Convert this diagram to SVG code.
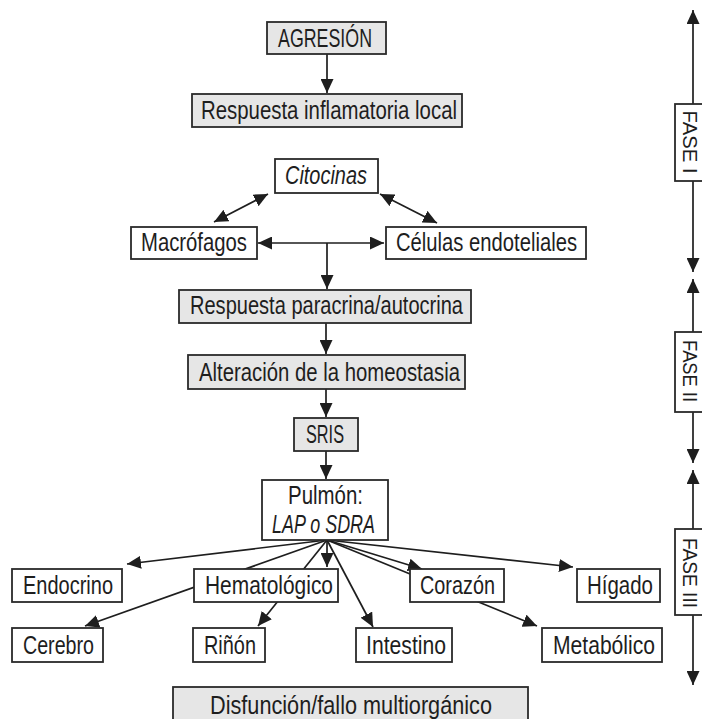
<svg xmlns="http://www.w3.org/2000/svg" width="702" height="719" viewBox="0 0 702 719">
<style>
.box{fill:#ffffff;stroke:#2a2a2a;stroke-width:1.8}
.gbox{fill:#e6e6e6;stroke:#2a2a2a;stroke-width:1.8}
.t{font-family:"Liberation Sans",Arial,sans-serif;font-size:26px;fill:#1e1e1e;text-anchor:middle}
.s{font-size:25px}
.i{font-style:italic}
.f{font-family:"Liberation Sans",Arial,sans-serif;font-size:21px;fill:#1e1e1e;text-anchor:middle}
.c{fill:none;stroke:#1e1e1e;stroke-width:1.7}
.a{marker-end:url(#ah)}
.d{marker-start:url(#ah);marker-end:url(#ah)}
</style>
<defs>
<marker id="ah" viewBox="0 0 14 13" refX="14" refY="6.5" markerWidth="14" markerHeight="13" markerUnits="userSpaceOnUse" orient="auto-start-reverse">
<path d="M0,0 L14,6.5 L0,13 z" fill="#1e1e1e"/>
</marker>
</defs>
<g id="connectors">
<line class="c a" x1="327" y1="54" x2="327" y2="93"/>
<line class="c d" x1="268" y1="194" x2="214" y2="222"/>
<line class="c d" x1="380" y1="194" x2="437" y2="223"/>
<line class="c d" x1="258" y1="243" x2="384" y2="243"/>
<line class="c a" x1="327" y1="243" x2="327" y2="289"/>
<line class="c a" x1="326" y1="323" x2="326" y2="354"/>
<line class="c a" x1="326" y1="389" x2="326" y2="417"/>
<line class="c a" x1="326" y1="451" x2="326" y2="479"/>
<line class="c a" x1="327" y1="540" x2="127" y2="564"/>
<line class="c a" x1="327" y1="540" x2="85" y2="626"/>
<line class="c a" x1="327" y1="540" x2="258" y2="626"/>
<line class="c a" x1="327" y1="540" x2="327" y2="567"/>
<line class="c a" x1="327" y1="540" x2="373" y2="627"/>
<line class="c a" x1="327" y1="540" x2="422" y2="569"/>
<line class="c a" x1="327" y1="540" x2="537" y2="626"/>
<line class="c a" x1="327" y1="540" x2="573" y2="567"/>
<line class="c a" x1="693" y1="104" x2="693" y2="10"/>
<line class="c a" x1="693" y1="181" x2="693" y2="272"/>
<line class="c a" x1="693" y1="332" x2="693" y2="279"/>
<line class="c a" x1="693" y1="412" x2="693" y2="463"/>
<line class="c a" x1="693" y1="529" x2="693" y2="470"/>
<line class="c a" x1="693" y1="615" x2="693" y2="685"/>
</g>
<g id="agresion"><rect class="gbox" x="267" y="22" width="119" height="32"/><text class="t s" x="325" y="47" textLength="94" lengthAdjust="spacingAndGlyphs">AGRESIÓN</text></g>
<g id="inflamatoria"><rect class="gbox" x="192" y="94" width="270" height="33"/><text class="t" x="329" y="119" textLength="256" lengthAdjust="spacingAndGlyphs">Respuesta inflamatoria local</text></g>
<g id="citocinas"><rect class="box" x="275" y="159" width="103" height="34"/><text class="t i" x="326" y="184" textLength="82" lengthAdjust="spacingAndGlyphs">Citocinas</text></g>
<g id="macrofagos"><rect class="box" x="131" y="227" width="126" height="32"/><text class="t" x="194" y="251" textLength="106" lengthAdjust="spacingAndGlyphs">Macrófagos</text></g>
<g id="endoteliales"><rect class="box" x="386" y="227" width="200" height="32"/><text class="t" x="486.5" y="251" textLength="181" lengthAdjust="spacingAndGlyphs">Células endoteliales</text></g>
<g id="paracrina"><rect class="gbox" x="179" y="290" width="292" height="33"/><text class="t" x="326.5" y="314" textLength="273" lengthAdjust="spacingAndGlyphs">Respuesta paracrina/autocrina</text></g>
<g id="homeostasia"><rect class="gbox" x="188" y="355" width="277" height="34"/><text class="t" x="329.5" y="381" textLength="261" lengthAdjust="spacingAndGlyphs">Alteración de la homeostasia</text></g>
<g id="sris"><rect class="gbox" x="294" y="418" width="64" height="33"/><text class="t s" x="325" y="443" textLength="38" lengthAdjust="spacingAndGlyphs">SRIS</text></g>
<g id="pulmon"><rect class="box" x="262" y="480" width="126" height="60"/><text class="t" x="325.5" y="504" textLength="75" lengthAdjust="spacingAndGlyphs">Pulmón:</text><text class="t i" x="323.5" y="533" textLength="103" lengthAdjust="spacingAndGlyphs">LAP o SDRA</text></g>
<g id="endocrino"><rect class="box" x="12" y="569" width="110" height="33"/><text class="t" x="68" y="594" textLength="90" lengthAdjust="spacingAndGlyphs">Endocrino</text></g>
<g id="hematologico"><rect class="box" x="194" y="569" width="144" height="33"/><text class="t" x="269" y="594" textLength="128" lengthAdjust="spacingAndGlyphs">Hematológico</text></g>
<g id="corazon"><rect class="box" x="410" y="569" width="94" height="33"/><text class="t" x="457.5" y="594" textLength="75" lengthAdjust="spacingAndGlyphs">Corazón</text></g>
<g id="higado"><rect class="box" x="577" y="569" width="83" height="33"/><text class="t" x="620" y="594" textLength="66" lengthAdjust="spacingAndGlyphs">Hígado</text></g>
<g id="cerebro"><rect class="box" x="12" y="628" width="91" height="34"/><text class="t" x="58.5" y="654" textLength="71" lengthAdjust="spacingAndGlyphs">Cerebro</text></g>
<g id="rinon"><rect class="box" x="193" y="628" width="72" height="34"/><text class="t" x="230" y="654" textLength="52" lengthAdjust="spacingAndGlyphs">Riñón</text></g>
<g id="intestino"><rect class="box" x="356" y="628" width="96" height="34"/><text class="t" x="406" y="654" textLength="80" lengthAdjust="spacingAndGlyphs">Intestino</text></g>
<g id="metabolico"><rect class="box" x="542" y="628" width="120" height="34"/><text class="t" x="604" y="654" textLength="102" lengthAdjust="spacingAndGlyphs">Metabólico</text></g>
<g id="disfuncion"><rect class="gbox" x="173" y="687" width="355" height="40"/><text class="t" x="351" y="714" textLength="282" lengthAdjust="spacingAndGlyphs">Disfunción/fallo multiorgánico</text></g>
<g id="fase1"><rect class="box" x="675" y="104" width="36" height="77"/><text class="f" transform="translate(683,142) rotate(90)" textLength="63" lengthAdjust="spacingAndGlyphs">FASE I</text></g>
<g id="fase2"><rect class="box" x="675" y="332" width="36" height="80"/><text class="f" transform="translate(683,371) rotate(90)" textLength="62" lengthAdjust="spacingAndGlyphs">FASE II</text></g>
<g id="fase3"><rect class="box" x="675" y="529" width="36" height="86"/><text class="f" transform="translate(683,573) rotate(90)" textLength="70" lengthAdjust="spacingAndGlyphs">FASE III</text></g>
</svg>
